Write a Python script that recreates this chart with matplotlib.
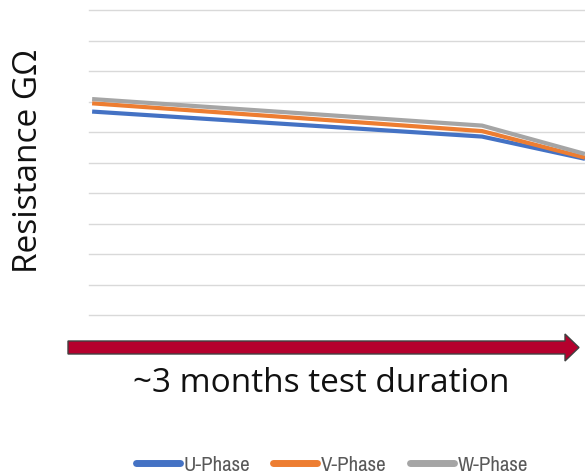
import numpy as np
import matplotlib.pyplot as plt
from matplotlib import font_manager
from matplotlib.patches import FancyArrow

# insulation resistance of each phase over the test period
t = [0.0, 1.0, 1.264]
u_phase = [6.67, 5.85, 5.12]
v_phase = [6.94, 6.03, 5.16]
w_phase = [7.08, 6.21, 5.28]
phases = ['U-Phase', 'V-Phase', 'W-Phase']
colors = ['#4472C4', '#ED7D31', '#A5A5A5']

W, H = 585, 477
fig = plt.figure(figsize=(W/100, H/100), dpi=100)

# plot area: gridlines from y=11px to y=316px, left edge at 89px
ax = fig.add_axes([89/W, 1-316/H, 1-89/W, (316-11)/H])
for y, c, lab in zip([u_phase, v_phase, w_phase], colors, phases):
    ax.plot(t, y, color=c, lw=3.0, label=lab, solid_capstyle='butt')
ax.set_xlim(-0.008, 1.264)
ax.set_ylim(0, 10)
ax.set_yticks(np.arange(0, 11, 1))
ax.set_xticks([])
ax.yaxis.grid(True, color='#d9d9d9', lw=1.0)
for gl in ax.get_ygridlines():
    gl.set_clip_on(False)
ax.tick_params(left=False, labelleft=False)
for s in ax.spines.values():
    s.set_visible(False)
ax.set_axisbelow(True)

# overlay in pixel coordinates for the time arrow and labels
ov = fig.add_axes([0, 0, 1, 1])
ov.set_xlim(0, W)
ov.set_ylim(H, 0)
ov.axis('off')
ov.patch.set_alpha(0)

arrow = FancyArrow(68, 348.5, 511, 0, width=13, head_width=27, head_length=14,
                   length_includes_head=True, facecolor='#B5002D',
                   edgecolor='#404040', lw=1.0)
ov.add_patch(arrow)

ov.text(321, 392, '~3 months test duration', ha='center', va='baseline',
        fontsize=24, family='Open Sans', color='#111111')
ov.text(29, 161, 'Resistance GΩ', ha='center', va='center', rotation=90,
        fontsize=24, family='Open Sans', color='#111111')

# narrow face for the legend if one is installed
narrow = [f.name for f in font_manager.fontManager.ttflist
          if 'Narrow' in f.name or 'Condensed' in f.name]
leg_font = {'family': narrow[0] if narrow else 'DejaVu Sans',
            'size': 15 if narrow else 12}

fig.legend(*ax.get_legend_handles_labels(), loc='center',
           bbox_to_anchor=(332/W, 1-466/H), ncol=3, frameon=False,
           prop=leg_font, handlelength=2.1, handletextpad=0.2,
           columnspacing=1.1, labelcolor='#595959')
for h in fig.legends[0].legend_handles:
    h.set_linewidth(5)
    h.set_solid_capstyle('round')

fig.savefig('out.png', dpi=100)
